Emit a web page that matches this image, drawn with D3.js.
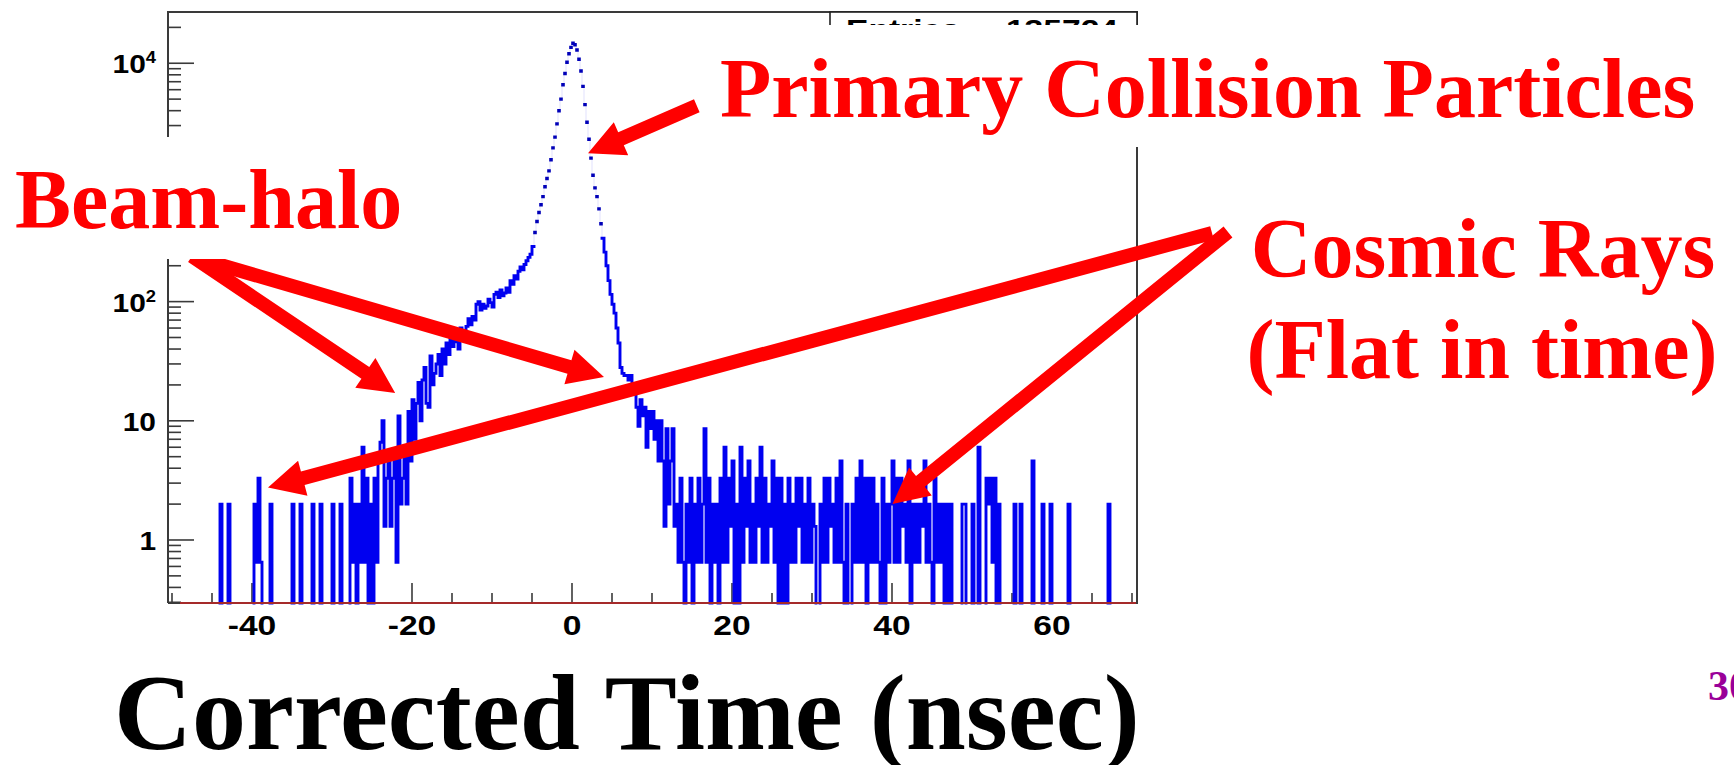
<!DOCTYPE html>
<html>
<head>
<meta charset="utf-8">
<script src="https://cdn.jsdelivr.net/npm/d3@7"></script>
<style>
  html, body { margin: 0; padding: 0; background: #ffffff; }
  svg { display: block; }
  .serif { font-family: "Liberation Serif", Tinos, "Nimbus Roman", FreeSerif, "DejaVu Serif", "Times New Roman", Times, serif; font-weight: 700; }
  .sans  { font-family: "Liberation Sans", Arial, Helvetica, sans-serif; font-weight: 700; }
</style>
</head>
<body>
<svg id="chart" width="1734" height="765"></svg>
<script>
// ---------------------------------------------------------------
// Corrected time distribution, 0.25 ns bins on [-50.5, 70.5] ns
// ---------------------------------------------------------------
const timeRange = [-50.5, 70.5];
const binWidth = 0.25;
const countRange = [0.296, 26400];

// isolated early entries: bin low edge (ns) and content
const earlyEdges  = [-44.0, -43.0, -39.75, -39.5, -39.25, -39.0, -37.75, -35.0, -34.0, -32.5, -31.5, -30.0, -29.0];
const earlyCounts = [2, 2, 2, 0.65, 3.3, 0.65, 2, 2, 2, 2, 2, 2, 2];

// beam-halo rise, contiguous bins from -28.0 ns
const haloStart = -28.0;
const haloCounts = [
  0, 3.3, 0.65, 2,      0, 2, 0.65, 6,       0.65, 3.3, 0, 2,     0, 3.3, 0.65, 4.6,
  6.6, 10, 1.3, 3.3,    5.3, 1.3, 3.3, 4.6,  0.65, 11, 2, 3.3,    6, 2, 12, 4.6,
  15, 7, 14, 21,        10, 22, 28, 14,      13, 35, 20, 25,      30, 36, 24, 40,
  30, 45, 36, 50,       42, 56, 46, 40,      60, 50, 55, 62,      72, 64, 75, 70,
  95, 100, 85, 95,      88, 92, 105, 98,     90, 115, 120, 108,   125, 112, 118, 130,
  120, 150, 140, 165,   155, 180, 195, 185,  205, 220, 235, 250
];

// collision peak, contiguous bins from -5.0 ns
const peakStart = -5.0;
const peakCounts = [
  290, 380, 470, 560, 650, 760, 920, 1080, 1250, 1550,
  1950, 2400, 3100, 4000, 5000, 6600, 8200, 10200, 12000, 13600,
  14700, 14300, 12900, 10800, 8600, 6400, 4500, 3200, 2300, 1600,
  1150, 900, 760, 600, 450, 340, 260, 200, 150, 115,
  95, 80, 60, 45
];

// fall-off after the peak, from 6.0 ns
const decayStart = 6.0;
const decayCounts = [
  28, 25, 24, 24, 22, 24, 20, 18, 13, 9, 15, 11, 13, 6,
  12, 8.6, 12, 7, 10, 4.6, 10, 4.6, 1.3, 8.6, 2, 4.6, 8.6, 1.3
];

// flat cosmic-ray floor, from 13.0 ns (four bins per ns)
const cosmicStart = 13.0;
const cosmicCounts = [
  2, 0.65, 3.3, 0.65,   0, 2, 0.65, 3.3,     0, 2, 0.65, 3.3,     0.65, 2, 8.6, 0.65,
  3.3, 0, 2, 0.65,      2, 0, 3.3, 0.65,     6, 0.65, 3.3, 1.3,   4.6, 0, 2, 0,
  6, 0.65, 3.3, 1.3,    4.6, 0.65, 2, 0.65,  3.3, 1.3, 6, 0.65,   3.3, 0.65, 2, 1.3,
  4.6, 0.65, 3.3, 0,    3.3, 0, 2, 0,        3.3, 0.65, 2, 0.65,  3.3, 1.3, 3.3, 0.65,
  2, 0.65, 3.3, 0.65,   2, 1.3, 0, 0,        2, 0.65, 3.3, 0.65,  3.3, 1.3, 2, 0.65,
  3.3, 0.65, 4.6, 0.65, 0, 2, 0, 0,          2, 0.65, 3.3, 0.65,  4.6, 0.65, 3.3, 0,
  3.3, 0.65, 3.3, 0.65, 2, 0.65, 0, 3.3,     0, 2, 0.65, 2,       4.6, 0.65, 3.3, 0.65,
  3.3, 1.3, 2, 0.65,    4.6, 0, 2, 0.65,     2, 0.65, 2, 1.3,     4.6, 0.65, 2, 0.65,
  0, 3.3, 0.65, 2,      0.65, 2, 0, 2,       0, 2, 0, 0,          0, 0, 0, 2,
  2, 0, 0, 0,           2, 0, 0, 6,          0, 0, 0, 3.3,        2, 3.3, 0.65, 3.3,
  0, 2, 0, 0,           0, 0, 0, 0,          0, 2, 0, 0,          2, 0, 0, 0,
  0, 0, 4.6, 0,         0, 0, 0, 2,          0, 0, 0, 2,          0, 0, 0, 0,
  0, 0, 0, 0,           2, 0, 0, 0,          0, 0, 0, 0,          0, 0, 0, 0,
  0, 0, 0, 0,           0, 0, 0, 0,          2, 0, 0, 0,          0, 0, 0, 0,
  0, 0, 0, 0,           0, 0
];

const entries = 135724;

// axis ticks
const xMajorTicks = [-40, -20, 0, 20, 40, 60];
const xMinorTicks = [-50, -45, -35, -30, -25, -15, -10, -5, 5, 10, 15, 25, 30, 35, 45, 50, 55, 65, 70];
const yMajorTicks = [1, 10, 100, 1000, 10000];
const yMajorBase  = ["1", "10", "10", "10", "10"];
const yMajorExp   = ["", "", "2", "3", "4"];

// annotation arrows: tail and tip in (time, count) coordinates
const arrowTails = [[15.6, 4400], [80, 376], [82, 384], [-47.5, 241], [-46.9, 232]];
const arrowTips  = [[2.0, 1760], [-38, 2.75], [40.06, 2.0], [-22.1, 17.1], [4.0, 23.3]];

// ---------------------------------------------------------------
const svg = d3.select("#chart");
const plot = { left: 168, right: 1136, top: 13, bottom: 603 };

const x = d3.scaleLinear().domain(timeRange).range([plot.left, plot.right]);
const y = d3.scaleLog().domain(countRange).range([plot.bottom, plot.top]);

// fill the bin contents
const nBins = Math.round((timeRange[1] - timeRange[0]) / binWidth);
const counts = new Array(nBins).fill(0);
const binIndex = t => Math.round((t - timeRange[0]) / binWidth);
earlyEdges.forEach((e, k) => { counts[binIndex(e)] = earlyCounts[k]; });
[[haloStart, haloCounts], [peakStart, peakCounts], [decayStart, decayCounts], [cosmicStart, cosmicCounts]]
  .forEach(([start, arr]) => {
    const i0 = binIndex(start);
    arr.forEach((v, k) => { counts[i0 + k] = v; });
  });

const edge = i => timeRange[0] + i * binWidth;
const yv = v => y(Math.max(v, countRange[0]));

const axisColor = "#3a3a3a";
const histBlue = "#0000f0";

// ---- frame and ticks ----
const gAxes = svg.append("g");
gAxes.append("path")
  .attr("d", `M${plot.left},${plot.bottom}V${plot.top - 1}H${plot.right + 1}V${plot.bottom}H${plot.left}`)
  .attr("fill", "none").attr("stroke", axisColor).attr("stroke-width", 2);

gAxes.selectAll("line.xmaj").data(xMajorTicks).join("line")
  .attr("x1", d => x(d)).attr("x2", d => x(d))
  .attr("y1", plot.bottom).attr("y2", plot.bottom - 20)
  .attr("stroke", axisColor).attr("stroke-width", 1.6);
gAxes.selectAll("line.xmin").data(xMinorTicks).join("line")
  .attr("x1", d => x(d)).attr("x2", d => x(d))
  .attr("y1", plot.bottom).attr("y2", plot.bottom - 10)
  .attr("stroke", axisColor).attr("stroke-width", 1.6);

const yMinorTicks = [];
[0.1, 1, 10, 100, 1000, 10000].forEach(dec => {
  for (let m = 2; m <= 9; m++) {
    const v = m * dec;
    if (v >= countRange[0] && v <= countRange[1]) yMinorTicks.push(v);
  }
});
gAxes.selectAll("line.ymaj").data(yMajorTicks).join("line")
  .attr("x1", plot.left).attr("x2", plot.left + 26)
  .attr("y1", d => y(d)).attr("y2", d => y(d))
  .attr("stroke", axisColor).attr("stroke-width", 1.6);
gAxes.selectAll("line.ymin").data(yMinorTicks).join("line")
  .attr("x1", plot.left).attr("x2", plot.left + 13)
  .attr("y1", d => y(d)).attr("y2", d => y(d))
  .attr("stroke", axisColor).attr("stroke-width", 1.6);

// ---- histogram as steps ----
// In the dense core the risers are hairline, so the peak reads as a dotted envelope.
const coreLevel = 280;
let mainPath = "", corePath = "", faintPath = "";
for (let i = 0; i < nBins; i++) {
  const a = x(edge(i)), b = x(edge(i + 1));
  const v = counts[i];
  const yy = yv(v);
  const leftCore = i > 0 && Math.min(counts[i - 1], v) > coreLevel;
  const rightCore = i < nBins - 1 && Math.min(counts[i + 1], v) > coreLevel;
  if (v >= countRange[0]) {
    if (leftCore && rightCore) corePath += `M${a - 0.8},${yy}H${b + 0.8}`;
    else mainPath += `M${a},${yy}H${b}`;
  }
  if (i < nBins - 1) {
    const y2 = yv(counts[i + 1]);
    if (Math.abs(y2 - yy) > 0.01) {
      if (rightCore) faintPath += `M${b},${yy}V${y2}`;
      else mainPath += `M${b},${yy}V${y2}`;
    }
  }
}
const gHist = svg.append("g");
gHist.append("path").attr("d", faintPath)
  .attr("fill", "none").attr("stroke", histBlue).attr("stroke-width", 0.8).attr("stroke-opacity", 0.15);
gHist.append("path").attr("d", mainPath)
  .attr("fill", "none").attr("stroke", histBlue).attr("stroke-width", 2.9)
  .attr("stroke-linecap", "square");
gHist.append("path").attr("d", corePath)
  .attr("fill", "none").attr("stroke", "#0000b8").attr("stroke-width", 3.4);

// baseline line drawn over the zero bins
svg.append("line")
  .attr("x1", x(-49)).attr("x2", plot.right)
  .attr("y1", plot.bottom).attr("y2", plot.bottom)
  .attr("stroke", "#a52a2a").attr("stroke-width", 2.2);

// ---- tick labels ----
const gLab = svg.append("g").attr("class", "sans").attr("fill", "#000");
gLab.selectAll("text.xl").data(xMajorTicks).join("text")
  .attr("transform", d => `translate(${x(d)},635) scale(1.2,1)`)
  .attr("text-anchor", "middle").attr("font-size", 28)
  .text(d => d);

yMajorTicks.forEach((v, k) => {
  const t = gLab.append("text")
    .attr("transform", `translate(156,${y(v) + 10}) scale(1.15,1)`)
    .attr("text-anchor", "end").attr("font-size", 26);
  t.append("tspan").text(yMajorBase[k]);
  if (yMajorExp[k]) {
    t.append("tspan").attr("font-size", 16).attr("dy", -10).text(yMajorExp[k]);
  }
});

// ---- statistics box ----
const gStats = svg.append("g").attr("class", "sans");
gStats.append("rect")
  .attr("x", 830).attr("y", plot.top - 1).attr("width", plot.right + 1 - 830).attr("height", 80)
  .attr("fill", "#fff").attr("stroke", "#222").attr("stroke-width", 1.6);
gStats.append("text")
  .attr("transform", "translate(846,39) scale(1.2,1)")
  .attr("font-size", 28).text("Entries");
gStats.append("text")
  .attr("transform", "translate(1118,39) scale(1.2,1)").attr("text-anchor", "end")
  .attr("font-size", 28).text(entries);

// ---- annotations ----
const red = "#ff0000";

// text panel behind the top label
svg.append("rect").attr("x", 640).attr("y", 25).attr("width", 1100).attr("height", 122).attr("fill", "#fff");

function arrowPolygon(p0, p1, shaft, headLen, headWid) {
  const dx = p1[0] - p0[0], dy = p1[1] - p0[1];
  const len = Math.hypot(dx, dy);
  const ux = dx / len, uy = dy / len, nx = -uy, ny = ux;
  const bx = p1[0] - ux * headLen, by = p1[1] - uy * headLen;
  const s = shaft / 2, h = headWid / 2;
  return [
    [p0[0] + nx * s, p0[1] + ny * s], [bx + nx * s, by + ny * s], [bx + nx * h, by + ny * h],
    p1,
    [bx - nx * h, by - ny * h], [bx - nx * s, by - ny * s], [p0[0] - nx * s, p0[1] - ny * s]
  ];
}
const gArrows = svg.append("g");
arrowTails.forEach((tail, k) => {
  const p0 = [x(tail[0]), y(tail[1])];
  const p1 = [x(arrowTips[k][0]), y(arrowTips[k][1])];
  gArrows.append("polygon")
    .attr("points", arrowPolygon(p0, p1, 14, 36, 36).map(p => p.join(",")).join(" "))
    .attr("fill", red);
});

// text panel behind the left label
svg.append("rect").attr("x", 0).attr("y", 137).attr("width", 430).attr("height", 122).attr("fill", "#fff");

const gText = svg.append("g").attr("class", "serif");
gText.append("text").attr("x", 15).attr("y", 228).attr("font-size", 84).attr("fill", red).text("Beam-halo");
gText.append("text").attr("x", 720).attr("y", 117).attr("font-size", 84).attr("fill", red).text("Primary Collision Particles");
gText.append("text").attr("x", 1483).attr("y", 277).attr("text-anchor", "middle").attr("font-size", 84).attr("fill", red).text("Cosmic Rays");
gText.append("text").attr("x", 1482).attr("y", 378).attr("text-anchor", "middle").attr("font-size", 84).attr("fill", red).text("(Flat in time)");
gText.append("text").attr("x", 114).attr("y", 749).attr("font-size", 108).attr("fill", "#000").text("Corrected Time (nsec)");
gText.append("text").attr("x", 1708).attr("y", 700).attr("font-size", 42).attr("fill", "#990099").text("30");
</script>
</body>
</html>
